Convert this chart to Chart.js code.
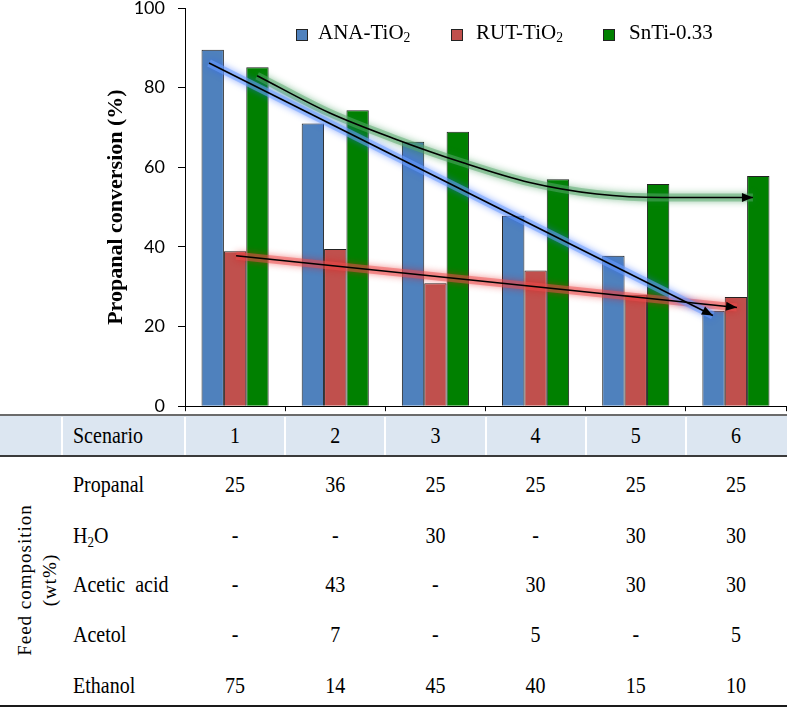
<!DOCTYPE html>
<html>
<head>
<meta charset="utf-8">
<script src="https://cdn.jsdelivr.net/npm/chart.js@4/dist/chart.umd.min.js"></script>
<style>
  body { margin: 0; background: #fff; width: 793px; height: 709px; position: relative; overflow: hidden; }
  #wrap { position: absolute; left: 0; top: -30px; width: 793px; height: 460px; }
  .legend-item { position: absolute; top: 20px; font-family: "Liberation Serif", serif; font-size: 21px; color: #000; white-space: nowrap; }
  .legend-box { position: absolute; width: 10px; height: 10px; border: 1px solid #222; top: 29px; }
  .cell { position: absolute; font-family: "Liberation Serif", serif; font-size: 20px; color: #000; white-space: nowrap; transform: translate(-50%, -50%) scaleY(1.12); }
  .rowname { position: absolute; left: 73px; font-family: "Liberation Serif", serif; font-size: 20px; color: #000; white-space: nowrap; transform: translateY(-50%) scaleY(1.12); }
  .hline { position: absolute; left: 0; width: 787px; height: 2px; }
  .sep { position: absolute; width: 2px; background: #fff; top: 417px; height: 39px; }
  sub { font-size: 0.65em; vertical-align: -0.25em; line-height: 0; }
</style>
</head>
<body>
<div id="wrap"><canvas id="chart"></canvas></div>
<div id="table"></div>
<script>
// bar data (propanal conversion, %)
const scenarios = ["1", "2", "3", "4", "5", "6"];
const anaTiO2 = [89.5, 71, 66.4, 47.8, 37.8, 24];
const rutTiO2 = [38.9, 39.5, 30.9, 34.1, 28, 27.4];
const snTi033 = [85.1, 74.3, 68.9, 57, 55.8, 57.8];

// hand drawn trend arrows (x in scenario index units, 0 = scenario 1)
const anaTrendX = [-0.26, 4.77];
const anaTrendY = [86.2, 22.8];
const rutTrendX = [0.01, 5.01];
const rutTrendY = [37.8, 24.8];
const snTrendX = [0.22, 0.94, 1.61, 2.27, 2.94, 3.61, 4.27, 5.17];
const snTrendY = [83, 73.7, 67, 61.2, 56.2, 53.3, 52.4, 52.4];

const yTicks = [0, 20, 40, 60, 80, 100];

// feed composition table (wt%)
const feedRows = ["Propanal", "H<sub>2</sub>O", "Acetic&nbsp;&nbsp;acid", "Acetol", "Ethanol"];
const propanal = [25, 36, 25, 25, 25, 25];
const water = ["-", "-", 30, "-", 30, 30];
const aceticAcid = ["-", 43, "-", 30, 30, 30];
const acetol = ["-", 7, "-", 5, "-", 5];
const ethanol = [75, 14, 45, 40, 15, 10];

const seriesNames = ["ANA-TiO<sub>2</sub>", "RUT-TiO<sub>2</sub>", "SnTi-0.33"];
const seriesColors = ["#4f81bd", "#c0504d", "#008000"];

const pts = (xs, ys) => xs.map((x, i) => ({ x: x, y: ys[i] }));
const bars = ys => ys.map((y, i) => ({ x: i, y: y }));

const glowPlugin = {
  id: "glow",
  beforeDatasetDraw(chart, args) {
    const ds = chart.data.datasets[args.index];
    if (ds.glow) {
      chart.ctx.save();
      chart.ctx.shadowColor = ds.glow;
      chart.ctx.shadowBlur = 7;
    }
  },
  afterDatasetDraw(chart, args) {
    if (chart.data.datasets[args.index].glow) chart.ctx.restore();
  }
};

const arrowPlugin = {
  id: "arrows",
  afterDatasetsDraw(chart) {
    const ctx = chart.ctx;
    chart.data.datasets.forEach((ds, i) => {
      if (!ds.arrow) return;
      const p = chart.getDatasetMeta(i).data;
      const a = p[p.length - 2], b = p[p.length - 1];
      const ang = Math.atan2(b.y - a.y, b.x - a.x);
      ctx.save();
      ctx.translate(b.x, b.y);
      ctx.rotate(ang);
      ctx.beginPath();
      ctx.moveTo(0, 0);
      ctx.lineTo(-11, -4.5);
      ctx.lineTo(-11, 4.5);
      ctx.closePath();
      ctx.fillStyle = "#000";
      ctx.fill();
      ctx.restore();
    });
  }
};

function trend(data, glowColor, fillColor, tension) {
  const mode = tension ? "monotone" : "default";
  return [
    { type: "line", data: data, borderColor: fillColor, borderWidth: 8, glow: glowColor,
      pointRadius: 0, tension: tension, cubicInterpolationMode: mode, order: 2 },
    { type: "line", data: data, borderColor: "#000", borderWidth: 1.6, arrow: true,
      pointRadius: 0, tension: tension, cubicInterpolationMode: mode, order: 1 }
  ];
}

// x is a linear scale (scenario index) so bars and the trend arrows share it
const boundaryTicks = scenarios.map((s, i) => i - 0.5).concat([scenarios.length - 0.5]);

const chart = new Chart(document.getElementById("chart"), {
  type: "bar",
  data: {
    datasets: [
      { label: "ANA-TiO2", data: bars(anaTiO2), backgroundColor: seriesColors[0], borderColor: "#222", borderWidth: 1, order: 3 },
      { label: "RUT-TiO2", data: bars(rutTiO2), backgroundColor: seriesColors[1], borderColor: "#222", borderWidth: 1, order: 3 },
      { label: "SnTi-0.33", data: bars(snTi033), backgroundColor: seriesColors[2], borderColor: "#222", borderWidth: 1, order: 3 },
      ...trend(pts(anaTrendX, anaTrendY), "rgba(40,100,255,0.9)", "rgba(110,160,255,0.55)", 0),
      ...trend(pts(rutTrendX, rutTrendY), "rgba(230,20,20,0.9)", "rgba(235,80,80,0.5)", 0),
      ...trend(pts(snTrendX, snTrendY), "rgba(20,130,50,0.9)", "rgba(90,170,110,0.5)", 0.4)
    ]
  },
  options: {
    responsive: true,
    maintainAspectRatio: false,
    animation: false,
    datasets: { bar: { categoryPercentage: 0.67, barPercentage: 1.0 } },
    layout: { padding: { top: 38, right: 7, left: 0, bottom: 0 } },
    plugins: { legend: { display: false }, tooltip: { enabled: false } },
    scales: {
      x: {
        type: "linear",
        min: -0.5, max: scenarios.length - 0.5,
        offset: false,
        afterBuildTicks: s => { s.ticks = boundaryTicks.map(v => ({ value: v })); },
        grid: { offset: false, drawOnChartArea: false, color: "#000", tickLength: 5 },
        border: { color: "#000", width: 1 },
        ticks: { display: false },
        afterFit: s => { s.height = 23; }
      },
      y: {
        min: 0, max: 100,
        afterBuildTicks: s => { s.ticks = yTicks.map(v => ({ value: v })); },
        grid: { drawOnChartArea: false, color: "#000", tickLength: 7 },
        border: { color: "#000", width: 1 },
        ticks: { color: "#000", padding: 13, font: { family: "Lato", size: 18 } },
        title: {
          display: true, text: "Propanal conversion (%)", color: "#000",
          font: { family: "Liberation Serif", size: 22, weight: "bold" },
          padding: { top: 103, bottom: 0 }
        },
        afterFit: s => { s.width = 185; }
      }
    }
  },
  plugins: [glowPlugin, arrowPlugin]
});

// legend
const legendBoxX = [296, 451, 603];
const legendTextX = [318, 476, 629];
let html = "";
seriesNames.forEach((n, i) => {
  html += `<div class="legend-box" style="left:${legendBoxX[i]}px;background:${seriesColors[i]}"></div>`;
  html += `<div class="legend-item" style="left:${legendTextX[i]}px">${n}</div>`;
});

// table under the chart, columns lined up with the x scale
const xs = chart.scales.x;
const colX = scenarios.map((s, i) => xs.getPixelForValue(i));
html += `<div style="position:absolute;left:0;top:416px;width:787px;height:40px;background:#dce6f1"></div>`;
[61].concat(boundaryTicks.slice(0, -1).map(v => xs.getPixelForValue(v) - 1)).forEach(x => {
  html += `<div class="sep" style="left:${x}px"></div>`;
});
html += `<div class="hline" style="top:414px;background:#6b6b6b"></div>`;
html += `<div class="hline" style="top:455px;background:#3a3a3a"></div>`;
html += `<div class="hline" style="top:705px;background:#1a1a1a"></div>`;

html += `<div class="rowname" style="top:436px">Scenario</div>`;
scenarios.forEach((s, i) => {
  html += `<div class="cell" style="left:${colX[i]}px;top:436px">${s}</div>`;
});
const rowY = [485, 536, 585, 635, 686];
[propanal, water, aceticAcid, acetol, ethanol].forEach((row, r) => {
  html += `<div class="rowname" style="top:${rowY[r]}px">${feedRows[r]}</div>`;
  row.forEach((v, i) => {
    html += `<div class="cell" style="left:${colX[i]}px;top:${rowY[r]}px">${v}</div>`;
  });
});
html += `<div style="position:absolute;left:37px;top:580px;transform:translate(-50%,-50%) rotate(-90deg);
  font-family:'Liberation Serif',serif;font-size:19px;letter-spacing:1px;line-height:25px;text-align:center;white-space:nowrap">
  Feed composition<br>(wt%)</div>`;
document.getElementById("table").innerHTML = html;
</script>
</body>
</html>
